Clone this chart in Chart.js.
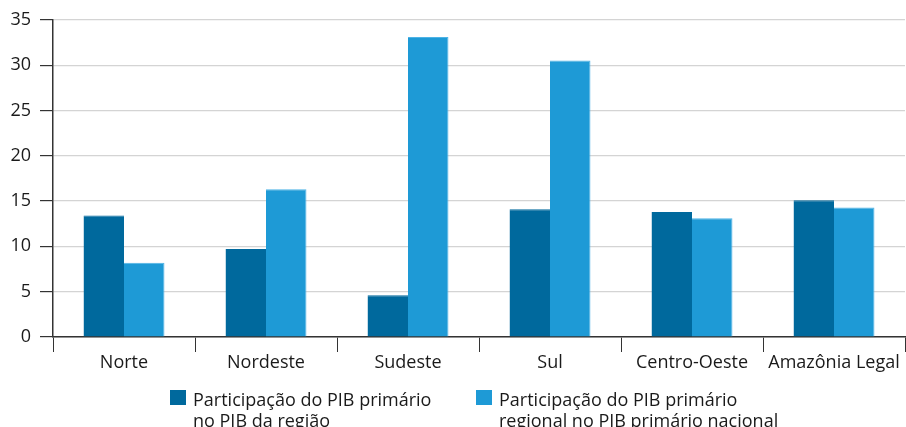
<!DOCTYPE html>
<html>
<head>
<meta charset="utf-8">
<script src="https://cdn.jsdelivr.net/npm/chart.js@4.4.0/dist/chart.umd.min.js"></script>
<style>
  html, body { margin: 0; padding: 0; background: #ffffff; }
  #wrap { position: relative; width: 906px; height: 427px; overflow: hidden; }
  #chart { position: absolute; left: 0; top: 0; }
  .legend { position: absolute; top: 389px; font-family: "Open Sans", sans-serif; font-size: 18px; line-height: 21px; color: #1a1a1a; }
  .legend .box { position: absolute; left: 0; top: 1px; width: 16px; height: 15px; }
  .legend .txt { margin-left: 23px; white-space: nowrap; }
</style>
</head>
<body>
<div id="wrap">
  <canvas id="chart" width="906" height="427"></canvas>
  <div class="legend" style="left:170px;"><div class="box" id="box0"></div><div class="txt" id="lab0"></div></div>
  <div class="legend" style="left:476px;"><div class="box" id="box1"></div><div class="txt" id="lab1"></div></div>
</div>
<script>
// Regions and their primary-sector GDP shares (%)
const categories = ["Norte", "Nordeste", "Sudeste", "Sul", "Centro-Oeste", "Amazônia Legal"];
const seriesNames = [
  ["Participação do PIB primário", "no PIB da região"],
  ["Participação do PIB primário", "regional no PIB primário nacional"]
];
const shareInRegion = [13.4, 9.7, 4.6, 14.1, 13.8, 15.1];
const shareOfNational = [8.2, 16.3, 33.1, 30.5, 13.1, 14.3];
const yTicks = [0, 5, 10, 15, 20, 25, 30, 35];

const colors = ["#00699d", "#1e9ad6"];
const edgeColors = ["#00699d", "#4db3e6"];

// HTML legend (two-line labels)
seriesNames.forEach((lines, i) => {
  document.getElementById("box" + i).style.background = colors[i];
  document.getElementById("lab" + i).innerHTML = lines.join("<br>");
});

const font = { family: "'Open Sans', sans-serif", size: 18 };

new Chart(document.getElementById("chart"), {
  type: "bar",
  data: {
    labels: categories,
    datasets: [
      { label: seriesNames[0].join(" "), data: shareInRegion, backgroundColor: colors[0],
        borderColor: edgeColors[0], borderWidth: { top: 1, right: 0, left: 0, bottom: 0 } },
      { label: seriesNames[1].join(" "), data: shareOfNational, backgroundColor: colors[1],
        borderColor: edgeColors[1], borderWidth: { top: 1, right: 1, left: 0, bottom: 0 } }
    ]
  },
  options: {
    responsive: false,
    animation: false,
    layout: { padding: { top: 18, right: 1, left: 0, bottom: 0 } },
    plugins: { legend: { display: false }, tooltip: { enabled: false } },
    datasets: { bar: { barPercentage: 1.0, categoryPercentage: 0.57 } },
    scales: {
      x: {
        grid: { display: true, drawOnChartArea: false, drawTicks: true, tickLength: 15,
                color: "#333333", tickColor: "#333333", offset: true },
        border: { display: true, color: "#333333", width: 1.5 },
        ticks: { color: "#1a1a1a", font: font, padding: 0, maxRotation: 0, autoSkip: false },
        afterFit: (s) => { s.height = 90; }
      },
      y: {
        min: 0, max: 35,
        afterBuildTicks: (s) => { s.ticks = yTicks.map(v => ({ value: v })); },
        grid: { color: "#d4d4d4", tickColor: "#333333", tickLength: 13, lineWidth: 1.2 },
        border: { display: true, color: "#333333", width: 1.5 },
        ticks: { color: "#1a1a1a", font: font, padding: 9 },
        afterFit: (s) => { s.width = 53; }
      }
    }
  }
});
</script>
</body>
</html>
